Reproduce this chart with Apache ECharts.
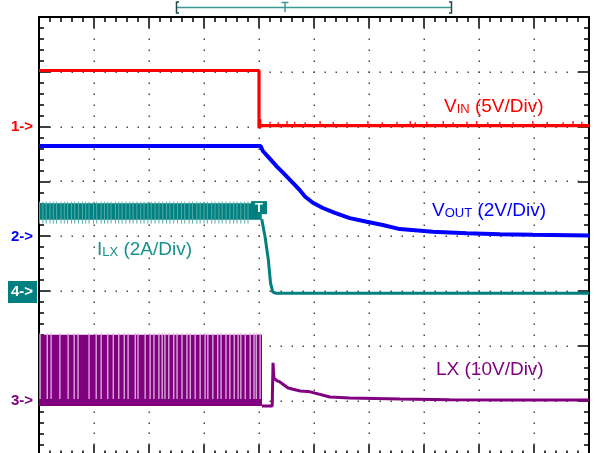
<!DOCTYPE html>
<html>
<head>
<meta charset="utf-8">
<script src="https://cdn.jsdelivr.net/npm/echarts@6/dist/echarts.min.js"></script>
<style>
  html, body { margin: 0; padding: 0; background: #fff; }
  #scope { width: 596px; height: 453px; }
</style>
</head>
<body>
<div id="scope"></div>
<script>
// Horizontal axis: time in divisions, trigger at 0 (4 div from the left edge).
// Vertical axis: screen divisions about the centre line (8 div tall).

// Graticule: major division lines and sub-division count
const gridXLines = [-3, -2, -1, 0, 1, 2, 3, 4, 5];
const gridYLines = [-3, -2, -1, 0, 1, 2, 3];
const SUBDIV = 5;

// Channel settings: marker position (div) and scale (units per div)
const CH1 = { pos: 2, scale: 5 };   // V_IN, 5 V/div
const CH2 = { pos: 0, scale: 2 };   // V_OUT, 2 V/div
const CH3 = { pos: -3, scale: 10 }; // LX, 10 V/div
const CH4 = { pos: -1, scale: 2 };  // I_LX, 2 A/div

// V_IN trace (V)
const vinTime  = [-4, 0, 0, 0.03, 6];
const vinVolts = [5.12, 5.12, -0.12, 0.08, 0.08];
// V_IN noise spikes after the input is removed
const vinSpikeTime = [0.03, 0.2, 0.35, 0.51, 0.65, 0.84, 1.11, 1.35, 1.6, 1.98, 2.24, 2.51, 2.75, 2.84, 3.05, 3.35, 3.53, 3.78, 3.96, 4.16, 4.38, 4.62, 4.98, 5.24, 5.53, 5.71, 5.87];
const vinSpikeTop  = [0.7, 0.45, 0.4, 0.5, 0.45, 0.4, 0.5, 0.45, 0.4, 0.5, 0.4, 0.45, 0.5, 0.4, 0.45, 0.5, 0.4, 0.45, 0.5, 0.4, 0.45, 0.4, 0.5, 0.45, 0.4, 0.5, 0.45];

// V_OUT trace (V)
const voutTime  = [-4, 0.03, 0.07, 0.2, 0.33, 0.44, 0.62, 0.75, 0.84, 0.98, 1.16, 1.38, 1.65, 1.96, 2.25, 2.56, 3.16, 3.78, 4.38, 4.98, 6];
const voutVolts = [3.29, 3.29, 3.11, 2.82, 2.53, 2.31, 1.94, 1.66, 1.44, 1.22, 1.03, 0.85, 0.66, 0.53, 0.41, 0.26, 0.16, 0.11, 0.07, 0.05, 0.03];

// I_LX: ripple envelope while switching (A), then the fall to zero
const ilxBandTime = [-4, 0.05];
const ilxBandAmps = [2.60, 3.20];
const ilxRippleTime = [-3.99, -3.93, -3.87, -3.80, -3.74, -3.68, -3.60, -3.54, -3.48, -3.41, -3.35, -3.28, -3.21, -3.15, -3.09, -3.01, -2.95, -2.87, -2.81, -2.75, -2.69, -2.61, -2.55, -2.49, -2.42, -2.35, -2.29, -2.22, -2.15, -2.09, -2.02, -1.96, -1.89, -1.82, -1.75, -1.68, -1.62, -1.55, -1.48, -1.41, -1.35, -1.27, -1.21, -1.13, -1.07, -1.00, -0.94, -0.86, -0.80, -0.73, -0.67, -0.60, -0.53, -0.46, -0.40, -0.33, -0.26, -0.20];
const ilxRippleAmps = [2.46, 3.26];
const ilxTime = [0.05, 0.11, 0.17, 0.21, 0.25, 0.3, 6];
const ilxAmps = [2.62, 1.98, 1.13, 0.29, -0.03, -0.08, -0.08];

// LX switch node: switching envelope (V), gaps between pulses, then ring-out
const lxBandTime  = [-4, 0.055];
const lxBandVolts = [-1.0, 12.0];
const lxGapTime = [-3.98, -3.85, -3.78, -3.62, -3.47, -3.36, -3.29, -3.09, -2.96, -2.87, -2.75, -2.65, -2.55, -2.45, -2.38, -2.25, -2.2, -2.07, -1.98, -1.91, -1.82, -1.76, -1.71, -1.64, -1.55, -1.49, -1.4, -1.31, -1.25, -1.16, -1.07, -0.98, -0.93, -0.84, -0.75, -0.69, -0.6, -0.53, -0.45, -0.38, -0.33, -0.25, -0.16, -0.09, -0.05, 0.02];
const lxGapVolts = [0.3, 12.3];
const lxTime  = [0.055, 0.24, 0.255, 0.27, 0.33, 0.38, 0.53, 0.75, 0.93, 1.29, 1.65, 2.56, 3.47, 4.38, 6];
const lxVolts = [-1.0, -1.0, 6.9, 4.1, 3.6, 3.4, 2.3, 1.75, 1.6, 0.66, 0.47, 0.29, 0.16, 0.11, 0.1];

const FONT = '"Liberation Sans", Arial, sans-serif';
const RED = '#ff0000', BLUE = '#0000ff', TEAL = '#008080', PURPLE = '#800080';
const X_MIN = -4, X_MAX = 6, Y_MIN = -4, Y_MAX = 4;

const toDiv = (ch, v) => ch.pos + v / ch.scale;
const trace = (ch, ts, vs) => ts.map((t, i) => [t, toDiv(ch, vs[i])]);
const segments = (ch, ts, lo, hi) => ts.map((t, i) => [t, toDiv(ch, Array.isArray(lo) ? lo[i] : lo), toDiv(ch, Array.isArray(hi) ? hi[i] : hi)]);

function segRender(color, width) {
  return function (params, api) {
    const a = api.coord([api.value(0), api.value(1)]);
    const b = api.coord([api.value(0), api.value(2)]);
    return { type: 'line', shape: { x1: a[0], y1: a[1], x2: b[0], y2: b[1] },
             style: { stroke: color, lineWidth: width } };
  };
}
function bandRender(color) {
  return function (params, api) {
    const p0 = api.coord([api.value(0), api.value(3)]);
    const p1 = api.coord([api.value(1), api.value(2)]);
    return { type: 'rect', shape: { x: p0[0], y: p0[1], width: p1[0] - p0[0], height: p1[1] - p0[1] },
             style: { fill: color } };
  };
}
// Dotted graticule line: one dot per sub-division along a major line.
// Data item: [orientation (0 = vertical, 1 = horizontal), position]
function graticuleRender(params, api) {
  const vertical = api.value(0) === 0;
  const pos = api.value(1);
  const children = [];
  const lo = vertical ? Y_MIN : X_MIN, hi = vertical ? Y_MAX : X_MAX;
  const n = (hi - lo) * SUBDIV;
  for (let j = 1; j < n; j++) {
    const v = lo + j / SUBDIV;
    const p = api.coord(vertical ? [pos, v] : [v, pos]);
    children.push({ type: 'rect', shape: { x: Math.round(p[0]) - 0.5, y: Math.round(p[1]) - 0.5, width: 1.5, height: 1.5 },
                    style: { fill: '#4a4a4a' } });
  }
  return { type: 'group', children };
}
function lineSeries(data, color, width, z) {
  return { type: 'line', data, showSymbol: false, symbol: 'none', animation: false, z,
           lineStyle: { color, width, join: 'bevel' }, emphasis: { disabled: true }, silent: true };
}
function customSeries(data, renderItem, z) {
  return { type: 'custom', data, renderItem, animation: false, silent: true, z, encode: { x: 0, y: 1 } };
}

const tickStyle = { color: '#000', width: 1.5 };
function axisCommon(extra) {
  return Object.assign({
    type: 'value', interval: 1,
    axisLine: { show: true, onZero: false, lineStyle: { color: '#000', width: 2 } },
    axisTick: { show: true, inside: true, length: 11, lineStyle: tickStyle },
    minorTick: { show: true, splitNumber: SUBDIV, length: 5, lineStyle: tickStyle },
    axisLabel: { show: false },
    splitLine: { show: false }
  }, extra);
}

const chart = echarts.init(document.getElementById('scope'), null, { renderer: 'canvas' });

const graticule = gridXLines.map(x => [0, x]).concat(gridYLines.map(y => [1, y]));

chart.setOption({
  animation: false,
  backgroundColor: '#fff',
  grid: { left: 39, top: 17, width: 550, height: 438.4, outerBoundsMode: 'none' },
  xAxis: [
    axisCommon({ min: X_MIN, max: X_MAX, position: 'bottom' }),
    axisCommon({ min: X_MIN, max: X_MAX, position: 'top' })
  ],
  yAxis: [
    axisCommon({ min: Y_MIN, max: Y_MAX, position: 'left' }),
    axisCommon({ min: Y_MIN, max: Y_MAX, position: 'right' })
  ],
  series: [
    { type: 'custom', data: graticule, renderItem: graticuleRender, animation: false, silent: true, z: 1 },
    customSeries([[lxBandTime[0], lxBandTime[1], toDiv(CH3, lxBandVolts[0]), toDiv(CH3, lxBandVolts[1])]], bandRender(PURPLE), 2),
    customSeries(segments(CH3, lxGapTime, lxGapVolts[0], lxGapVolts[1]), segRender('#dfb3df', 1.3), 3),
    lineSeries(trace(CH3, lxTime, lxVolts), PURPLE, 3, 3),
    customSeries([[ilxBandTime[0], ilxBandTime[1], toDiv(CH4, ilxBandAmps[0]), toDiv(CH4, ilxBandAmps[1])]], bandRender(TEAL), 4),
    customSeries(segments(CH4, ilxRippleTime, ilxRippleAmps[0], ilxRippleAmps[1]), segRender('#52aca7', 1), 5),
    lineSeries(trace(CH4, ilxTime, ilxAmps), TEAL, 3, 5),
    lineSeries(trace(CH2, voutTime, voutVolts), BLUE, 4, 6),
    lineSeries(trace(CH1, vinTime, vinVolts), RED, 3.2, 7),
    customSeries(segments(CH1, vinSpikeTime, 0.08, vinSpikeTop), segRender(RED, 1.3), 7)
  ]
});

// Labels and screen annotations
function richLabel(x, y, main, sub, rest, color) {
  return {
    type: 'text', x, y, z: 20, silent: true,
    style: {
      text: '{m|' + main + '}{s|' + sub + '}{m|' + rest + '}',
      verticalAlign: 'top', align: 'left',
      rich: {
        m: { fontSize: 19, fontFamily: FONT, fill: color, lineHeight: 22, verticalAlign: 'bottom' },
        s: { fontSize: 13, fontFamily: FONT, fill: color, lineHeight: 13, verticalAlign: 'bottom' }
      }
    }
  };
}
function marker(txt, y, color) {
  return { type: 'text', x: 11, y, z: 20, silent: true,
           style: { text: txt, fontSize: 15, fontWeight: 'bold', fontFamily: FONT, fill: color, verticalAlign: 'middle', align: 'left' } };
}

const trig = chart.convertToPixel({ gridIndex: 0 }, [0, toDiv(CH4, 3.28)]);
const teal4 = chart.convertToPixel({ gridIndex: 0 }, [0, CH4.pos]);

chart.setOption({
  graphic: [
    // trigger/record bar across the top
    { type: 'line', silent: true, shape: { x1: 176, y1: 7.5, x2: 452, y2: 7.5 }, style: { stroke: '#3a9994', lineWidth: 1.5 } },
    { type: 'polyline', silent: true, shape: { points: [[179, 2], [176.5, 2], [176.5, 13], [179, 13]] }, style: { stroke: '#1d4a48', lineWidth: 1.5, fill: null } },
    { type: 'polyline', silent: true, shape: { points: [[449, 2], [451.5, 2], [451.5, 13], [449, 13]] }, style: { stroke: '#1d4a48', lineWidth: 1.5, fill: null } },
    { type: 'polyline', silent: true, shape: { points: [[281.5, 2.5], [288.5, 2.5]] }, style: { stroke: '#3a9994', lineWidth: 1.5 } },
    { type: 'line', silent: true, shape: { x1: 285, y1: 2.5, x2: 285, y2: 12 }, style: { stroke: '#3a9994', lineWidth: 1.5 } },

    // trigger flag on the I_LX trace
    { type: 'rect', z: 21, silent: true, shape: { x: trig[0] - 8, y: trig[1], width: 16, height: 13 }, style: { fill: TEAL } },
    { type: 'text', z: 22, silent: true, x: trig[0], y: trig[1] + 7,
      style: { text: 'T', fontSize: 13, fontWeight: 'bold', fontFamily: FONT, fill: '#fff', align: 'center', verticalAlign: 'middle' } },

    // channel markers
    marker('1->', 126.5, RED),
    marker('2->', 237, BLUE),
    { type: 'rect', z: 20, silent: true, shape: { x: 8, y: teal4[1] - 10, width: 29, height: 22 }, style: { fill: TEAL } },
    { type: 'text', x: 11, y: teal4[1] + 1, z: 21, silent: true,
      style: { text: '4->', fontSize: 15, fontWeight: 'bold', fontFamily: FONT, fill: '#fff', verticalAlign: 'middle', align: 'left' } },
    marker('3->', 401, PURPLE),

    // trace labels
    richLabel(444, 94, 'V', 'IN', ' (5V/Div)', RED),
    richLabel(432, 198, 'V', 'OUT', ' (2V/Div)', BLUE),
    richLabel(97, 237, 'I', 'LX', ' (2A/Div)', '#17918b'),
    richLabel(436, 357, 'LX (10V/Div)', '', '', PURPLE)
  ]
});
</script>
</body>
</html>
